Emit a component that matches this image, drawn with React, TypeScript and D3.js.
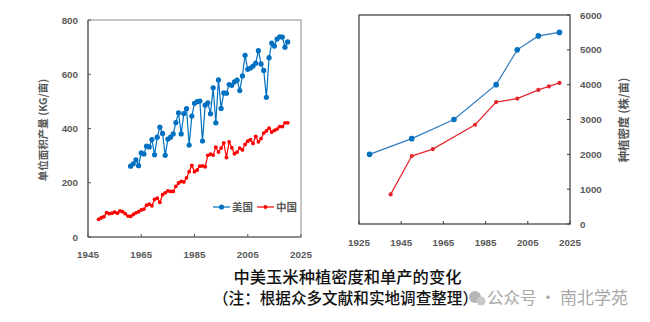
import React from "react";
import * as d3 from "d3";

// ---------- Data ----------
const usYieldStart = 1961;
const usYield = [
  261, 270, 284, 263, 310, 306, 335, 332, 359, 303,
  368, 405, 382, 301, 361, 368, 380, 422, 458, 380,
  455, 473, 339, 446, 493, 499, 501, 354, 486, 495,
  454, 550, 421, 579, 474, 531, 530, 562, 559, 572,
  578, 540, 594, 670, 618, 623, 630, 641, 687, 638,
  614, 515, 661, 715, 704, 730, 738, 737, 700, 719,
];
const cnYieldStart = 1949;
const cnYield = [
  65, 71, 75, 90, 86, 88, 92, 88, 96, 93,
  86, 77, 76, 83, 89, 93, 100, 103, 117, 121,
  115, 139, 143, 128, 156, 163, 170, 168, 168, 187,
  199, 205, 203, 218, 241, 264, 241, 247, 261, 262,
  259, 301, 305, 302, 331, 313, 328, 347, 293, 351,
  329, 307, 313, 328, 321, 341, 353, 359, 345, 371,
  351, 363, 383, 391, 401, 387, 393, 398, 407, 407,
  421, 421,
];

const usDensityYears = [1930, 1950, 1970, 1990, 2000, 2010, 2020];
const usDensity = [2000, 2450, 3000, 4000, 5000, 5400, 5500];
const cnDensityYears = [1940, 1950, 1960, 1980, 1990, 2000, 2010, 2015, 2020];
const cnDensity = [850, 1950, 2150, 2850, 3500, 3600, 3850, 3950, 4050];

const leftXTicks = [1945, 1965, 1985, 2005, 2025];
const leftYTicks = [0, 200, 400, 600, 800];
const rightXTicks = [1925, 1945, 1965, 1985, 2005, 2025];
const rightYTicks = [0, 1000, 2000, 3000, 4000, 5000, 6000];

const seriesNames = ["美国", "中国"];
const leftYLabel = "单位面积产量 (KG/亩)";
const rightYLabel = "种植密度 (株/亩)";
const title1 = "中美玉米种植密度和单产的变化";
const title2 = "（注：根据众多文献和实地调查整理）";
const watermarkA = "公众号";
const watermarkB = "·";
const watermarkC = "南北学苑";

// ---------- Styles ----------
const BLUE = "#0070C0";
const RED = "#FF0000";
const BLUE2 = "#2E7CC4";
const RED2 = "#E4262C";
const TICK_COLOR = "#595959";
const FONT = "'Liberation Sans', Arial, 'Noto Sans CJK SC', sans-serif";
const CJK = "'Noto Sans CJK SC', 'Liberation Sans', sans-serif";

export default function App() {
  // Left chart scales
  const lx = d3.scaleLinear().domain([1945, 2025]).range([88, 301]);
  const ly = d3.scaleLinear().domain([0, 800]).range([237, 20]);
  // Right chart scales
  const rx = d3.scaleLinear().domain([1925, 2025]).range([359, 570]);
  const ry = d3.scaleLinear().domain([0, 6000]).range([224, 15]);

  const usPts: [number, number][] = usYield.map((v, i) => [lx(usYieldStart + i), ly(v)]);
  const cnPts: [number, number][] = cnYield.map((v, i) => [lx(cnYieldStart + i), ly(v)]);
  const usDPts: [number, number][] = usDensity.map((v, i) => [rx(usDensityYears[i]), ry(v)]);
  const cnDPts: [number, number][] = cnDensity.map((v, i) => [rx(cnDensityYears[i]), ry(v)]);

  const line = d3.line<[number, number]>();

  const tickTextStyle = {
    fontFamily: FONT,
    fontSize: 9.8,
    fontWeight: 700,
    fill: TICK_COLOR,
  } as const;

  const legendY = 207;

  return (
    <svg
      width={650}
      height={322}
      style={{ position: "absolute", left: 0, top: 0, background: "#fff" }}
    >
      <rect x={0} y={0} width={650} height={322} fill="#fff" />

      {/* ---------- Left chart ---------- */}
      <g>
        <rect
          x={lx(1945)}
          y={ly(800)}
          width={lx(2025) - lx(1945)}
          height={ly(0) - ly(800)}
          fill="none"
          stroke="#8c8c8c"
          strokeWidth={1}
        />
        <line x1={lx(1945)} x2={lx(1945)} y1={ly(0)} y2={ly(800)} stroke="#555" strokeWidth={1.2} />
        <line x1={lx(1945)} x2={lx(2025)} y1={ly(0)} y2={ly(0)} stroke="#555" strokeWidth={1.2} />
        {leftXTicks.map((t) => (
          <g key={"lxt" + t}>
            <line x1={lx(t)} x2={lx(t)} y1={ly(0)} y2={ly(0) - 3} stroke="#555" />
            <text x={lx(t)} y={258} textAnchor="middle" style={tickTextStyle}>
              {t}
            </text>
          </g>
        ))}
        {leftYTicks.map((t) => (
          <g key={"lyt" + t}>
            <line x1={lx(1945)} x2={lx(1945) + 3} y1={ly(t)} y2={ly(t)} stroke="#555" />
            <text x={78} y={ly(t) + 3.5} textAnchor="end" style={tickTextStyle}>
              {t}
            </text>
          </g>
        ))}
        <text
          transform={`translate(47,130) rotate(-90)`}
          textAnchor="middle"
          style={{ fontFamily: CJK, fontSize: 10.5, fontWeight: 700, fill: TICK_COLOR }}
        >
          {leftYLabel}
        </text>

        <path d={line(usPts) || ""} fill="none" stroke={BLUE} strokeWidth={1.2} />
        {usPts.map((p, i) => (
          <circle key={"us" + i} cx={p[0]} cy={p[1]} r={2.6} fill={BLUE} />
        ))}
        <path d={line(cnPts) || ""} fill="none" stroke={RED} strokeWidth={1.2} />
        {cnPts.map((p, i) => (
          <circle key={"cn" + i} cx={p[0]} cy={p[1]} r={1.9} fill={RED} />
        ))}

        {/* Legend */}
        <line x1={213} x2={230} y1={legendY} y2={legendY} stroke={BLUE} strokeWidth={1.2} />
        <circle cx={221.5} cy={legendY} r={2.6} fill={BLUE} />
        <text
          x={232}
          y={legendY + 4}
          style={{ fontFamily: CJK, fontSize: 10.5, fontWeight: 700, fill: TICK_COLOR }}
        >
          {seriesNames[0]}
        </text>
        <line x1={257} x2={274} y1={legendY} y2={legendY} stroke={RED} strokeWidth={1.2} />
        <circle cx={265.5} cy={legendY} r={1.9} fill={RED} />
        <text
          x={276}
          y={legendY + 4}
          style={{ fontFamily: CJK, fontSize: 10.5, fontWeight: 700, fill: TICK_COLOR }}
        >
          {seriesNames[1]}
        </text>
      </g>

      {/* ---------- Right chart ---------- */}
      <g>
        <rect
          x={rx(1925)}
          y={ry(6000)}
          width={rx(2025) - rx(1925)}
          height={ry(0) - ry(6000)}
          fill="none"
          stroke="#3a3a3a"
          strokeWidth={1.2}
        />
        {rightXTicks.map((t) => (
          <g key={"rxt" + t}>
            <line x1={rx(t)} x2={rx(t)} y1={ry(0)} y2={ry(0) - 3} stroke="#3a3a3a" />
            <text x={rx(t)} y={246} textAnchor="middle" style={tickTextStyle}>
              {t}
            </text>
          </g>
        ))}
        {rightYTicks.map((t) => (
          <g key={"ryt" + t}>
            <line x1={rx(2025)} x2={rx(2025) - 3} y1={ry(t)} y2={ry(t)} stroke="#3a3a3a" />
            <text x={580} y={ry(t) + 3.5} textAnchor="start" style={tickTextStyle}>
              {t}
            </text>
          </g>
        ))}
        <text
          transform={`translate(623,120) rotate(-90)`}
          textAnchor="middle"
          dominantBaseline="central"
          style={{ fontFamily: CJK, fontSize: 11.5, fontWeight: 700, fill: TICK_COLOR }}
        >
          {rightYLabel}
        </text>

        <path d={line(usDPts) || ""} fill="none" stroke={BLUE2} strokeWidth={1.2} />
        {usDPts.map((p, i) => (
          <circle key={"usd" + i} cx={p[0]} cy={p[1]} r={2.8} fill={BLUE} />
        ))}
        <path d={line(cnDPts) || ""} fill="none" stroke={RED2} strokeWidth={1.2} />
        {cnDPts.map((p, i) => (
          <circle key={"cnd" + i} cx={p[0]} cy={p[1]} r={2.1} fill={RED2} />
        ))}
      </g>

      {/* ---------- Titles ---------- */}
      <text
        x={347.5}
        y={283}
        textAnchor="middle"
        style={{ fontFamily: CJK, fontSize: 16.3, fontWeight: 500, fill: "#111" }}
      >
        {title1}
      </text>
      <text
        x={345.5}
        y={304}
        textAnchor="middle"
        style={{ fontFamily: CJK, fontSize: 15.6, fontWeight: 500, fill: "#111" }}
      >
        {title2}
      </text>

      {/* Watermark */}
      <g>
        <circle cx={475} cy={297} r={6} fill="#b5b5b5" />
        <circle cx={481} cy={301} r={4.5} fill="#c8c8c8" />
        <text x={487} y={303.5} style={{ fontFamily: CJK, fontSize: 16.5, fill: "#a8a8a8" }}>
          {watermarkA}
        </text>
        <text
          x={548}
          y={303.5}
          textAnchor="middle"
          style={{ fontFamily: CJK, fontSize: 16.5, fill: "#a8a8a8" }}
        >
          {watermarkB}
        </text>
        <text x={560} y={303.5} style={{ fontFamily: CJK, fontSize: 17, fill: "#a8a8a8" }}>
          {watermarkC}
        </text>
      </g>
    </svg>
  );
}
